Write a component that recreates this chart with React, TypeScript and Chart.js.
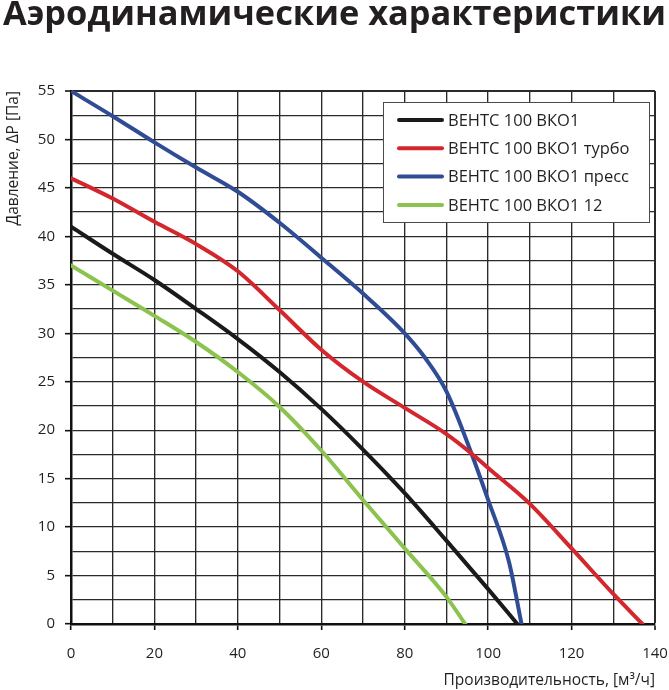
import React, { useEffect, useRef } from 'react';
import { Chart, registerables } from 'chart.js';

Chart.register(...registerables);

const TITLE = 'Аэродинамические характеристики';
const X_TITLE = 'Производительность, [м³/ч]';
const Y_TITLE = 'Давление, ΔP [Па]';

const seriesNames = ['ВЕНТС 100 ВКО1', 'ВЕНТС 100 ВКО1 турбо', 'ВЕНТС 100 ВКО1 пресс', 'ВЕНТС 100 ВКО1 12'];
const seriesColors = ['#1b1a1a', '#d3262d', '#2f4c94', '#8cc24e'];

const baseFlow = [0, 10, 20, 30, 40, 50, 60, 70, 80, 90, 100, 107];
const basePressure = [41, 38.2, 35.5, 32.5, 29.4, 26, 22.2, 18, 13.5, 8.6, 3.6, 0];

const turboFlow = [0, 10, 20, 30, 40, 50, 60, 70, 80, 90, 96, 100, 110, 120, 130, 137];
const turboPressure = [46, 43.9, 41.5, 39.2, 36.4, 32.4, 28.3, 25, 22.3, 19.6, 17.6, 16.1, 12.4, 7.8, 3.1, 0];

const pressFlow = [0, 10, 20, 30, 40, 50, 60, 70, 80, 85, 90, 96, 100, 105, 108];
const pressPressure = [55, 52.4, 49.7, 47.1, 44.6, 41.4, 37.8, 34.1, 30, 27.4, 24, 17.6, 12.8, 6.4, 0];

const s12Flow = [0, 10, 20, 30, 40, 50, 60, 70, 80, 90, 94.5];
const s12Pressure = [37, 34.4, 31.8, 29.1, 26, 22.4, 17.9, 12.8, 7.8, 2.8, 0];

const xMin = 0;
const xMax = 140;
const xStep = 10;
const xLabelEvery = 20;
const yMin = 0;
const yMax = 55;
const yStep = 2.5;
const yLabelEvery = 5;

const flows = [baseFlow, turboFlow, pressFlow, s12Flow];
const pressures = [basePressure, turboPressure, pressPressure, s12Pressure];

const FONT = '"Open Sans", "Noto Sans", sans-serif';
const TEXT = '#231f20';

const titlePlugin = {
  id: 'fitTitle',
  afterDraw(chart: any) {
    const { ctx } = chart;
    ctx.save();
    ctx.font = `bold 34px ${FONT}`;
    ctx.fillStyle = TEXT;
    ctx.textBaseline = 'alphabetic';
    ctx.textAlign = 'left';
    const w = ctx.measureText(TITLE).width;
    const target = 663;
    ctx.translate(3, 25);
    ctx.scale(target / w, 1);
    ctx.fillText(TITLE, 0, 0);
    ctx.restore();
  },
};

const legendPlugin = {
  id: 'boxLegend',
  afterDatasetsDraw(chart: any) {
    const { ctx, chartArea } = chart;
    const w = 266;
    const h = 120;
    const x = Math.round(chartArea.right - 6 - w);
    const y = Math.round(chartArea.top + 11);
    ctx.save();
    ctx.fillStyle = '#ffffff';
    ctx.fillRect(x, y, w, h);
    ctx.strokeStyle = '#4a4a4a';
    ctx.lineWidth = 1;
    ctx.strokeRect(x + 0.5, y + 0.5, w, h);
    chart.data.datasets.forEach((ds: any, i: number) => {
      const cy = y + 18 + i * 28.3;
      ctx.strokeStyle = ds.borderColor;
      ctx.lineWidth = 4;
      ctx.lineCap = 'round';
      ctx.beginPath();
      ctx.moveTo(x + 16, cy);
      ctx.lineTo(x + 59, cy);
      ctx.stroke();
      ctx.fillStyle = TEXT;
      ctx.font = `16.5px ${FONT}`;
      ctx.textBaseline = 'middle';
      ctx.textAlign = 'left';
      ctx.fillText(ds.label, x + 65, cy + 1);
    });
    ctx.restore();
  },
};

export default function App() {
  const canvasRef = useRef<HTMLCanvasElement | null>(null);

  useEffect(() => {
    document.body.style.margin = '0';
    const canvas = canvasRef.current;
    if (!canvas) return;

    const datasets = seriesNames.map((name, i) => ({
      label: name,
      data: flows[i].map((f, j) => ({ x: f, y: pressures[i][j] })),
      borderColor: seriesColors[i],
      backgroundColor: seriesColors[i],
      borderWidth: 4,
      pointRadius: 0,
      showLine: true,
      fill: false,
      cubicInterpolationMode: 'monotone' as const,
      borderCapStyle: 'round' as const,
      borderJoinStyle: 'round' as const,
    }));

    const chart = new Chart(canvas, {
      type: 'scatter',
      data: { datasets },
      options: {
        responsive: false,
        animation: false,
        layout: { padding: { top: 91, right: 14, bottom: 0, left: 0 } },
        plugins: {
          legend: { display: false },
          title: { display: false },
          tooltip: { enabled: false },
        },
        scales: {
          x: {
            type: 'linear',
            min: xMin,
            max: xMax,
            afterFit: (scale: any) => {
              scale.height = 66;
              scale.paddingRight = 0;
              scale.paddingLeft = 0;
            },
            ticks: {
              stepSize: xStep,
              autoSkip: false,
              maxRotation: 0,
              padding: 15,
              color: TEXT,
              font: { family: FONT, size: 15 },
              callback: (v: any) => (Number(v) % xLabelEvery === 0 ? String(v) : ''),
            },
            grid: {
              color: '#2a2a2a',
              lineWidth: (c: any) => (c.tick && c.tick.value === xMax ? 2 : 1.35),
              drawTicks: true,
              tickLength: 6,
              tickWidth: 1.6,
              tickColor: (c: any) =>
                c.tick && c.tick.value % xLabelEvery === 0 ? '#111' : 'rgba(0,0,0,0)',
            },
            border: { display: true, color: '#111', width: 2.5 },
            title: {
              display: true,
              text: X_TITLE,
              align: 'end',
              color: TEXT,
              font: { family: FONT, size: 15.5 },
              padding: { top: 0, bottom: 0 },
            },
          },
          y: {
            type: 'linear',
            min: yMin,
            max: yMax,
            afterFit: (scale: any) => {
              scale.width = 71;
            },
            ticks: {
              stepSize: yStep,
              autoSkip: false,
              padding: 10,
              color: TEXT,
              font: { family: FONT, size: 15 },
              callback: (v: any) => (Number(v) % yLabelEvery === 0 ? String(v) : ''),
            },
            grid: {
              color: '#2a2a2a',
              lineWidth: (c: any) => (c.tick && c.tick.value === yMax ? 2 : 1.35),
              drawTicks: true,
              tickLength: 6,
              tickWidth: 1.6,
              tickColor: (c: any) =>
                c.tick && c.tick.value % yLabelEvery === 0 ? '#111' : 'rgba(0,0,0,0)',
            },
            border: { display: true, color: '#111', width: 2.5 },
            title: {
              display: true,
              text: Y_TITLE,
              align: 'end',
              color: TEXT,
              font: { family: FONT, size: 15.5 },
              padding: { top: 4, bottom: 0 },
            },
          },
        },
      },
      plugins: [titlePlugin, legendPlugin],
    });

    return () => {
      chart.destroy();
    };
  }, []);

  return (
    <div style={{ width: 669, height: 690 }}>
      <canvas ref={canvasRef} width={669} height={690} style={{ display: 'block' }} />
    </div>
  );
}
